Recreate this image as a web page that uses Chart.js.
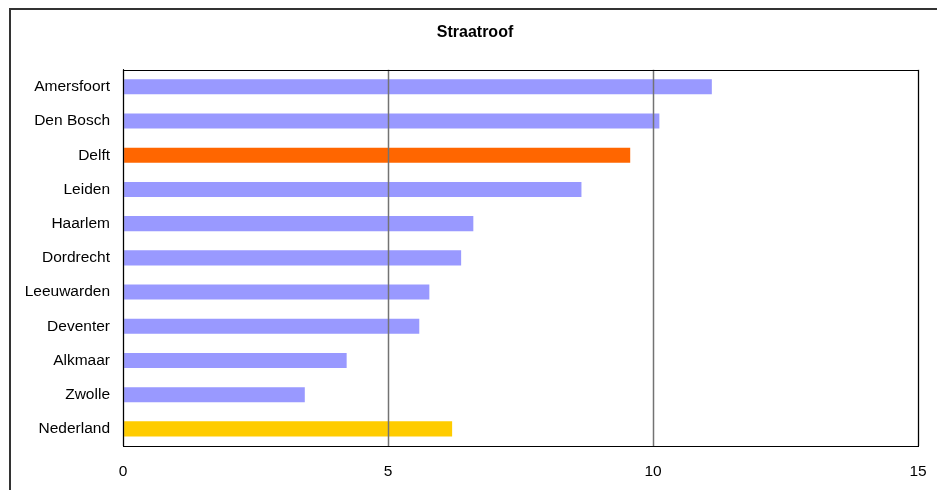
<!DOCTYPE html>
<html>
<head>
<meta charset="utf-8">
<script src="https://cdn.jsdelivr.net/npm/chart.js@4/dist/chart.umd.min.js"></script>
<style>
html,body{margin:0;padding:0;background:#fff;}
#wrap{width:937px;height:490px;position:relative;}
</style>
</head>
<body>
<div id="wrap"><canvas id="c" width="937" height="490"></canvas></div>
<script>
const title = "Straatroof";
const categories = ["Amersfoort","Den Bosch","Delft","Leiden","Haarlem","Dordrecht","Leeuwarden","Deventer","Alkmaar","Zwolle","Nederland"];
const values = [11.11, 10.12, 9.57, 8.65, 6.61, 6.38, 5.78, 5.59, 4.22, 3.43, 6.21];
const barColors = ["#9999FF","#9999FF","#FF6600","#9999FF","#9999FF","#9999FF","#9999FF","#9999FF","#9999FF","#9999FF","#FFCC00"];
const xTicks = [0, 5, 10, 15];

const FONT = "'Liberation Sans', Arial, sans-serif";

const framePlugin = {
  id: 'frame',
  beforeDraw(chart) {
    const ctx = chart.ctx;
    ctx.save();
    ctx.fillStyle = '#fff';
    ctx.fillRect(0, 0, chart.width, chart.height);
    ctx.strokeStyle = '#333';
    ctx.lineWidth = 2;
    ctx.strokeRect(10, 9, chart.width + 20, chart.height + 20);
    ctx.restore();
  },
  afterDatasetsDraw(chart) {
    const a = chart.chartArea;
    const xs = chart.scales.x;
    const ctx = chart.ctx;
    ctx.save();
    // vertical gridlines drawn over the bars, as in the reference
    ctx.strokeStyle = '#737373';
    ctx.lineWidth = 1.5;
    xs.ticks.forEach(t => {
      const px = Math.round(xs.getPixelForValue(t.value)) + 0.5;
      ctx.beginPath();
      ctx.moveTo(px, a.top);
      ctx.lineTo(px, a.bottom);
      ctx.stroke();
    });
    ctx.strokeStyle = '#000';
    ctx.lineWidth = 1;
    ctx.strokeRect(Math.round(a.left) + 0.5, Math.round(a.top) + 0.5, Math.round(a.right - a.left), Math.round(a.bottom - a.top));
    ctx.restore();
  }
};

new Chart(document.getElementById('c'), {
  type: 'bar',
  data: {
    labels: categories,
    datasets: [{
      data: values,
      backgroundColor: barColors,
      borderWidth: 0,
      barPercentage: 0.44,
      categoryPercentage: 1.0
    }]
  },
  options: {
    indexAxis: 'y',
    responsive: false,
    animation: false,
    devicePixelRatio: 1,
    layout: { padding: { left: 13, right: 0, top: 0, bottom: 0 } },
    plugins: {
      legend: { display: false },
      tooltip: { enabled: false },
      title: {
        display: true,
        text: title,
        color: '#000',
        font: { family: FONT, size: 16, weight: 'bold' },
        padding: { top: 23, bottom: 27.5 }
      }
    },
    scales: {
      x: {
        min: 0, max: 15,
        afterBuildTicks(scale) { scale.ticks = xTicks.map(v => ({ value: v })); },
        afterFit(scale) { scale.height = 44; },
        ticks: { color: '#000', font: { family: FONT, size: 15.5 }, padding: 0, maxRotation: 0 },
        grid: { display: false, drawTicks: true, tickLength: 16 },
        border: { display: true, color: '#000', width: 1 }
      },
      y: {
        afterFit(scale) { scale.width = 110; },
        ticks: { color: '#000', font: { family: FONT, size: 15.5 }, padding: 13 },
        grid: { display: false, drawTicks: false },
        border: { display: true, color: '#000', width: 1 }
      },
      yRight: {
        type: 'linear',
        position: 'right',
        display: true,
        afterFit(scale) { scale.width = 19; },
        ticks: { display: false },
        grid: { display: false, drawTicks: false },
        border: { display: false }
      }
    }
  },
  plugins: [framePlugin]
});
</script>
</body>
</html>
